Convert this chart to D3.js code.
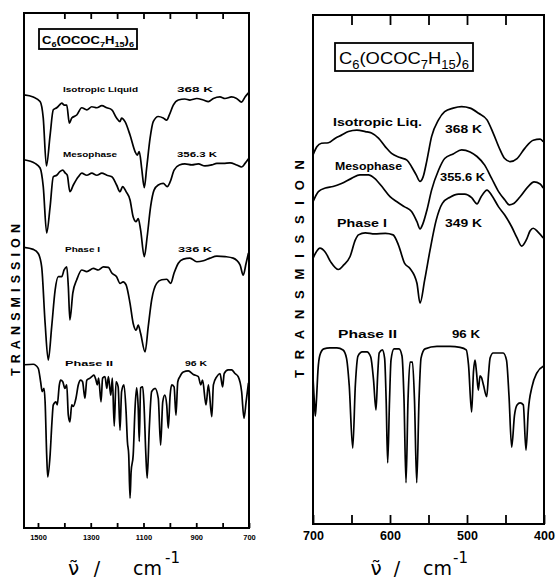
<!DOCTYPE html>
<html>
<head>
<meta charset="utf-8">
<script src="https://cdn.jsdelivr.net/npm/d3@7"></script>
<style>
  body { margin: 0; background: #fff; }
  .trace { fill: none; stroke: #000; stroke-width: 1.7; stroke-linejoin: round; }
</style>
</head>
<body>
<svg id="chart" width="556" height="580"></svg>
<script>
// ---- data: [wavenumber cm-1, transmission (arb. units, offset per trace)]
const leftIso = [[1553,84.1],[1518,83.7],[1492,82.8],[1480,79.6],[1468,70.3],[1454,76.3],[1442,81.2],[1429,81.6],[1419,82.1],[1410,82.5],[1400,82.1],[1391,82.1],[1381,78.6],[1372,79.6],[1353,80.2],[1334,81.6],[1315,81.2],[1296,81.8],[1277,81.6],[1258,82.0],[1239,81.6],[1220,81.2],[1202,79.6],[1189,78.9],[1183,79.6],[1170,78.9],[1151,76.3],[1132,73.1],[1124,72.4],[1116,73.1],[1107,69.9],[1097,66.1],[1088,69.9],[1075,75.7],[1063,78.9],[1044,79.9],[1025,79.6],[1012,79.2],[1002,80.2],[987,82.1],[968,83.1],[943,83.3],[924,83.1],[898,83.4],[873,83.1],[854,82.8],[835,83.4],[810,83.7],[791,83.4],[766,83.7],[747,83.4],[728,82.7],[715,83.7],[702,84.5]];
const leftMeso = [[1553,71.5],[1511,70.8],[1492,69.9],[1480,66.3],[1467,57.3],[1454,62.4],[1442,68.2],[1429,68.5],[1417,69.2],[1406,69.5],[1398,69.0],[1389,68.5],[1379,65.3],[1366,66.6],[1347,68.2],[1334,68.9],[1315,68.5],[1296,68.9],[1277,68.5],[1258,68.9],[1239,68.5],[1220,68.2],[1202,66.6],[1189,65.3],[1179,66.3],[1166,65.3],[1151,63.7],[1139,60.4],[1128,59.5],[1120,60.1],[1111,57.9],[1097,52.7],[1086,56.6],[1073,62.4],[1060,65.6],[1044,66.6],[1025,66.9],[1010,66.3],[999,67.2],[984,69.5],[964,70.5],[943,70.7],[917,70.5],[892,70.7],[867,70.3],[841,70.5],[822,70.8],[797,70.8],[772,70.9],[747,70.5],[728,70.1],[715,70.8],[702,71.7]];
const leftPhase1 = [[1553,54.5],[1518,54.1],[1499,53.3],[1486,50.7],[1473,39.8],[1461,32.6],[1448,39.1],[1435,46.2],[1423,48.8],[1410,48.8],[1401,50.1],[1391,50.7],[1385,46.9],[1379,40.4],[1368,45.6],[1353,48.2],[1334,50.1],[1315,49.8],[1290,50.4],[1271,50.1],[1252,50.7],[1233,50.6],[1220,49.5],[1202,48.8],[1189,47.5],[1177,47.8],[1166,47.2],[1151,43.6],[1139,39.7],[1128,38.4],[1120,39.4],[1111,37.8],[1094,34.2],[1082,39.1],[1069,44.3],[1050,47.5],[1031,48.2],[1012,48.3],[997,47.5],[984,49.5],[968,51.4],[949,52.2],[924,52.4],[898,51.7],[873,51.9],[848,52.4],[822,52.8],[791,52.7],[760,52.4],[734,51.1],[722,49.1],[711,51.4],[702,53.4]];
const leftPhase2 = [[1553,31.7],[1518,31.8],[1499,31.0],[1490,28.4],[1484,26.5],[1477,27.1],[1473,24.5],[1467,14.2],[1463,9.9],[1454,14.2],[1447,20.6],[1442,23.9],[1432,24.5],[1427,23.9],[1419,27.8],[1414,28.7],[1406,28.4],[1398,27.1],[1391,27.8],[1385,21.9],[1379,20.6],[1372,23.9],[1366,23.6],[1356,25.2],[1347,27.8],[1338,28.7],[1331,28.4],[1322,25.2],[1315,28.7],[1303,29.1],[1296,29.4],[1288,29.7],[1280,28.7],[1275,27.8],[1270,29.1],[1261,24.5],[1255,29.1],[1246,29.4],[1239,27.1],[1233,29.4],[1224,25.8],[1218,29.1],[1211,19.8],[1204,28.4],[1196,27.4],[1189,19.0],[1183,26.5],[1174,27.8],[1166,22.6],[1161,16.8],[1156,14.2],[1151,5.8],[1147,10.9],[1139,14.2],[1132,23.3],[1126,27.2],[1120,23.3],[1116,16.8],[1111,27.2],[1103,27.4],[1098,23.9],[1091,14.2],[1086,9.7],[1078,19.4],[1069,26.5],[1056,27.1],[1044,25.2],[1035,16.1],[1027,24.5],[1019,25.8],[1012,23.9],[1006,19.4],[999,25.8],[993,27.8],[984,27.4],[977,21.9],[970,28.4],[962,29.4],[949,30.3],[930,30.5],[911,29.8],[892,29.4],[883,27.8],[876,28.7],[863,23.9],[854,27.8],[841,21.6],[835,27.8],[822,29.4],[810,30.0],[800,27.4],[794,30.0],[779,30.7],[766,30.7],[753,30.0],[741,29.4],[728,26.5],[719,21.3],[711,24.5],[702,28.2]];

const rightIso = [[700,72.5],[695,74.1],[689,74.8],[680,74.9],[671,75.8],[663,76.4],[654,77.1],[643,77.4],[632,77.1],[624,76.8],[615,75.8],[606,74.1],[598,72.8],[587,72.0],[578,71.5],[572,70.2],[566,68.6],[561,67.3],[557,68.2],[552,71.5],[546,76.1],[537,79.4],[529,81.0],[518,81.7],[507,82.0],[496,81.7],[485,80.7],[474,79.4],[466,76.8],[457,73.5],[451,71.8],[444,71.2],[435,71.8],[425,73.8],[414,75.4],[405,75.6],[401,75.1]];
const rightMeso = [[700,63.3],[693,65.3],[684,66.0],[674,66.3],[663,66.9],[650,67.9],[639,68.6],[628,68.6],[620,67.9],[609,66.0],[600,64.3],[591,63.3],[581,62.3],[572,61.4],[565,59.4],[561,58.0],[557,59.1],[552,61.7],[546,65.6],[537,69.5],[529,71.8],[518,72.7],[507,73.5],[496,73.1],[487,72.2],[477,70.5],[468,67.9],[459,65.3],[451,63.7],[445,62.7],[440,62.9],[431,64.3],[420,66.4],[413,67.2],[405,66.8],[401,66.0]];
const rightPhase1 = [[700,52.2],[696,53.4],[691,54.2],[684,53.4],[677,51.5],[667,50.0],[660,50.9],[652,52.5],[645,55.8],[641,56.8],[632,57.2],[620,57.0],[606,57.1],[596,56.8],[589,54.8],[581,51.2],[574,50.2],[565,47.3],[561,43.4],[555,47.9],[548,53.8],[540,59.7],[532,63.0],[522,64.2],[511,64.8],[503,64.8],[494,64.1],[487,62.9],[482,64.2],[474,65.6],[468,64.6],[459,62.3],[451,60.7],[442,58.4],[435,56.2],[429,54.6],[423,55.8],[418,57.6],[414,58.1],[408,57.4],[401,56.2]];
const rightPhase2 = [[700,28.7],[698.4,24.4],[697,21.2],[695.5,24.4],[693.5,30.3],[691,33.2],[686,34.4],[678,34.6],[669,34.6],[661,34.2],[656.5,32.6],[653,27.3],[648.4,14.9],[645,27.3],[641.6,33.0],[636,33.8],[630,33.8],[625,32.8],[621.4,28.3],[618.2,22.4],[616,29.3],[614,33.6],[610,34.2],[607,32.6],[605,24.4],[603,12.0],[600.6,24.4],[598.7,32.2],[594.8,34.4],[588.3,34.4],[584.4,33.0],[581.8,24.4],[579.2,8.1],[576.6,24.4],[574,31.8],[570.8,31.8],[568.2,24.4],[565.3,8.1],[562.3,24.4],[559.7,32.6],[554.5,34.4],[539,34.9],[522,34.9],[509,34.7],[501,34.2],[498,31.2],[494,22.0],[491.6,29.9],[489.6,32.2],[487.7,29.9],[485.3,26.3],[483.1,29.1],[481,28.7],[478.6,27.3],[474.4,25.0],[472.1,29.3],[470,32.6],[466,33.6],[453,33.6],[448.7,32.2],[445.5,25.3],[442,15.1],[438.3,21.4],[435,23.4],[431,23.8],[426.9,23.4],[423.4,14.5],[420.3,22.4],[415.7,26.9],[409.2,29.7],[401,31.0]];

const leftTicks = [1500, 1400, 1300, 1200, 1100, 1000, 900, 800, 700];
const leftTickLabels = [1500, 1300, 1100, 900, 700];
const rightTicks = [700, 650, 600, 550, 500, 450, 400];
const rightTickLabels = [700, 600, 500, 400];

const leftNames = ["Isotropic Liquid", "Mesophase", "Phase I", "Phase II"];
const leftTemps = ["368 K", "356.3 K", "336 K", "96 K"];
const rightNames = ["Isotropic Liq.", "Mesophase", "Phase I", "Phase II"];
const rightTemps = ["368 K", "355.6 K", "349 K", "96 K"];

const svg = d3.select("#chart");
const font = "'Liberation Sans', Arial, sans-serif";
const labFont = "'DejaVu Sans', sans-serif";

const panels = [
  { left: 24, right: 249, top: 13, bottom: 528, domain: [1553, 700],
    ticks: leftTicks, labels: leftTickLabels, tickLen: 5, tickFont: 7.5,
    series: [leftIso, leftMeso, leftPhase1, leftPhase2],
    names: leftNames, temps: leftTemps,
    nameX: [63, 63, 65, 65], nameW: [75, 54, 35, 48],
    tempX: [177, 177, 178, 185], tempW: [36, 40, 34, 22],
    nameY: [91.5, 157, 251.5, 366], tempY: [91.5, 157, 251.5, 366], labelFont: 7, labelWeight: "bold",
    box: { x: 39, y: 29, w: 98, h: 20, fs: 10, sub: 7, tx: 42, ty: 43.5, len: 92, weight: "bold" },
    ylab: { x: 15, y: 300, len: 152, fs: 12.5 },
    xlab: { nu: 73.5, slash: 97, cm: 133, sup: 165 } },
  { left: 313, right: 544, top: 15, bottom: 524, domain: [700, 400],
    ticks: rightTicks, labels: rightTickLabels, tickLen: 9, tickFont: 12.5,
    series: [rightIso, rightMeso, rightPhase1, rightPhase2],
    names: rightNames, temps: rightTemps,
    nameX: [333, 335, 337, 338], nameW: [89, 67, 50, 59],
    tempX: [445, 440, 445, 452], tempW: [37, 45, 37, 28],
    nameY: [126, 170, 227, 338], tempY: [133, 181, 227, 338], labelFont: 11.5, labelWeight: "bold",
    box: { x: 335, y: 43, w: 138, h: 28, fs: 17, sub: 12, tx: 339, ty: 64, len: 130, weight: "normal" },
    ylab: { x: 299, y: 269, len: 218, fs: 13 },
    xlab: { nu: 376, slash: 397, cm: 423, sup: 453 } }
];

panels.forEach(p => {
  const x = d3.scaleLinear().domain(p.domain).range([p.left, p.right]);
  const y = d3.scaleLinear().domain([0, 100]).range([p.bottom, p.top]);
  const g = svg.append("g");

  // axes with inward ticks
  const bottom = g.append("g")
    .attr("transform", "translate(0," + p.bottom + ")")
    .call(d3.axisBottom(x).tickValues(p.ticks).tickSize(-p.tickLen).tickPadding(7)
      .tickFormat(d => p.labels.includes(d) ? d : ""));
  bottom.select(".domain").remove();
  bottom.selectAll("line").attr("stroke-width", 1.8);
  bottom.selectAll("text").attr("font-family", font).attr("font-weight", "bold")
    .attr("font-size", p.tickFont).attr("fill", "#000");

  const top = g.append("g")
    .attr("transform", "translate(0," + p.top + ")")
    .call(d3.axisTop(x).tickValues(p.ticks.slice(1, -1)).tickSize(-p.tickLen - 1).tickFormat(""));
  top.select(".domain").remove();
  top.selectAll("line").attr("stroke-width", 1.8);

  // frame
  g.append("rect")
    .attr("x", p.left).attr("y", p.top)
    .attr("width", p.right - p.left).attr("height", p.bottom - p.top)
    .attr("fill", "none").attr("stroke", "#000").attr("stroke-width", 2);

  // spectra
  const line = d3.line().x(d => x(d[0])).y(d => y(d[1])).curve(d3.curveMonotoneX);
  p.series.forEach((s, i) => {
    g.append("path").datum(s).attr("class", "trace")
      .attr("stroke-width", (i == 3 && p.left < 100) ? 1.4 : 1.7)
      .attr("d", line);
  });

  // phase labels
  p.names.forEach((n, i) => {
    g.append("text").attr("x", p.nameX[i]).attr("y", p.nameY[i])
      .attr("font-family", font).attr("font-size", p.labelFont).attr("font-weight", p.labelWeight)
      .attr("textLength", p.nameW[i]).attr("lengthAdjust", "spacingAndGlyphs").text(n);
    g.append("text").attr("x", p.tempX[i]).attr("y", p.tempY[i])
      .attr("font-family", font).attr("font-size", p.labelFont).attr("font-weight", p.labelWeight)
      .attr("textLength", p.tempW[i]).attr("lengthAdjust", "spacingAndGlyphs").text(p.temps[i]);
  });

  // formula box
  const b = p.box;
  g.append("rect").attr("x", b.x).attr("y", b.y).attr("width", b.w).attr("height", b.h)
    .attr("fill", "#fff").attr("stroke", "#000").attr("stroke-width", 1.8);
  const t = g.append("text").attr("x", b.tx).attr("y", b.ty)
    .attr("font-family", font).attr("font-size", b.fs).attr("font-weight", b.weight)
    .attr("textLength", b.len).attr("lengthAdjust", "spacingAndGlyphs");
  [["C", 0], ["6", 1], ["(OCOC", 0], ["7", 1], ["H", 0], ["15", 1], [")", 0], ["6", 1]].forEach(([s, sub], i, arr) => {
    const prev = i > 0 ? arr[i - 1][1] : 0;
    const dy = sub && !prev ? b.fs * 0.3 : (!sub && prev ? -b.fs * 0.3 : 0);
    t.append("tspan").attr("font-size", sub ? b.sub : b.fs).attr("dy", dy).text(s);
  });

  // y label
  g.append("text")
    .attr("transform", "translate(" + (p.ylab.x + 4.5) + "," + p.ylab.y + ") rotate(-90)")
    .attr("text-anchor", "middle")
    .attr("font-family", font).attr("font-size", p.ylab.fs).attr("font-weight", "bold")
    .attr("textLength", p.ylab.len).attr("lengthAdjust", "spacing")
    .text("TRANSMISSION");

  // x label: nu-tilde / cm^-1
  const xl = p.xlab;
  g.append("text").attr("x", xl.nu).attr("y", 575).attr("text-anchor", "middle")
    .attr("font-family", labFont).attr("font-size", 20).text("\u03BD");
  g.append("text").attr("x", xl.nu).attr("y", 575).attr("text-anchor", "middle")
    .attr("font-family", labFont).attr("font-size", 20).text("\u02DC");
  g.append("text").attr("x", xl.slash).attr("y", 575).attr("text-anchor", "middle")
    .attr("font-family", labFont).attr("font-size", 19).text("/");
  g.append("text").attr("x", xl.cm).attr("y", 575)
    .attr("font-family", labFont).attr("font-size", 19).text("cm");
  g.append("text").attr("x", xl.sup).attr("y", 563)
    .attr("font-family", labFont).attr("font-size", 15).text("-1");
});
</script>
</body>
</html>
